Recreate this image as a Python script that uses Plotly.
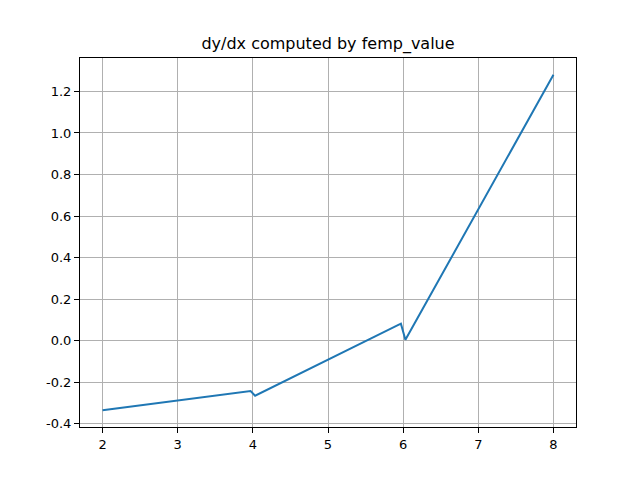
import plotly.graph_objects as go

x_vals = [2.0, 3.97, 4.03, 5.97, 6.03, 8.0]
y_vals = [-0.335, -0.243, -0.265, 0.082, 0.004, 1.28]
x_ticks = [2, 3, 4, 5, 6, 7, 8]
y_ticks = [-0.4, -0.2, 0.0, 0.2, 0.4, 0.6, 0.8, 1.0, 1.2]
title_text = "dy/dx computed by femp_value"

fig = go.Figure()
fig.add_trace(go.Scatter(x=x_vals, y=y_vals, mode="lines",
                         line=dict(color="#1f77b4", width=2)))

axis_common = dict(showline=True, linecolor="black", linewidth=1, mirror=True,
                   ticks="outside", ticklen=5, tickwidth=1, tickcolor="black",
                   showgrid=True, gridcolor="#b0b0b0", gridwidth=1, zeroline=False,
                   tickfont=dict(family="DejaVu Sans", size=13, color="black"))

# page body adds an 8px offset; margins compensate so the axes land where the reference has them
fig.update_layout(
    width=640, height=480,
    margin=dict(l=72, r=72, t=50, b=61),
    paper_bgcolor="white", plot_bgcolor="white",
    showlegend=False,
    title=dict(text=title_text, x=0.5, xanchor="center", xref="paper",
               y=1 - 35 / 480, yref="container", yanchor="middle",
               font=dict(family="DejaVu Sans", size=16, color="black")),
    xaxis=dict(range=[1.7, 8.3], tickvals=x_ticks, ticktext=[str(t) for t in x_ticks], **axis_common),
    yaxis=dict(range=[-0.4158, 1.3608], tickvals=y_ticks, ticktext=[f"{t:.1f}" for t in y_ticks], **axis_common),
)

fig.write_html("out.html")
